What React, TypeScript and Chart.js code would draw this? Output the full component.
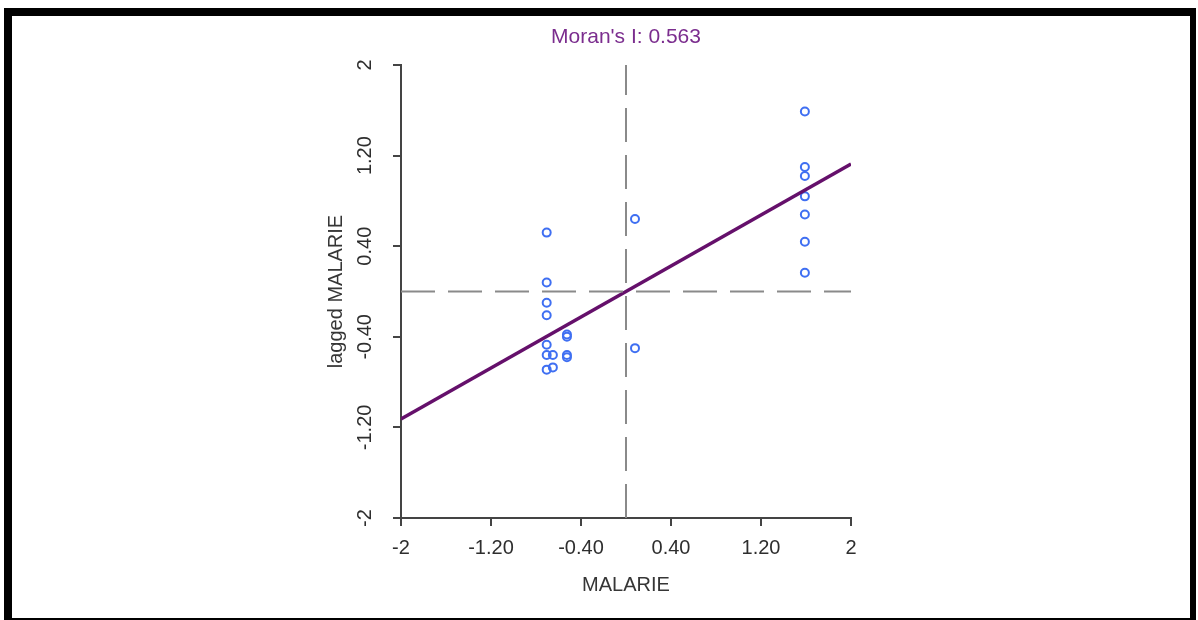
import React, { useEffect, useRef } from "react";
import { Chart, registerables } from "chart.js";

Chart.register(...registerables);

const TITLE = "Moran's I: 0.563";
const X_LABEL = "MALARIE";
const Y_LABEL = "lagged MALARIE";

const tickValues = [-2, -1.2, -0.4, 0.4, 1.2, 2];
const tickLabels = ["-2", "-1.20", "-0.40", "0.40", "1.20", "2"];

// standardized MALARIE values
const pointX = [
  -0.705, -0.705, -0.705, -0.705, -0.705, -0.705, -0.705,
  -0.65, -0.65,
  -0.525, -0.525, -0.525, -0.525,
  0.08, 0.08,
  1.59, 1.59, 1.59, 1.59, 1.59, 1.59, 1.59,
];
// spatially lagged MALARIE values
const pointY = [
  0.52, 0.08, -0.1, -0.21, -0.47, -0.56, -0.69,
  -0.56, -0.67,
  -0.38, -0.4, -0.56, -0.58,
  0.64, -0.5,
  1.59, 1.1, 1.02, 0.84, 0.68, 0.44, 0.165,
];

// regression line (slope = Moran's I)
const fitX = [-2, 2];
const fitY = [-1.126, 1.126];

// mean reference lines
const vRefX = [0, 0];
const vRefY = [-2, 2];
const hRefX = [-2, 2];
const hRefY = [0, 0];

const FONT = '"Liberation Sans", Arial, sans-serif';
const TEXT_COLOR = "#2e2e2e";
const AXIS_COLOR = "#444444";

const labelsPlugin = {
  id: "rLabels",
  afterDraw(chart: any) {
    const { ctx, chartArea, scales } = chart;
    const xs = scales.x;
    const ys = scales.y;
    ctx.save();
    ctx.fillStyle = TEXT_COLOR;
    ctx.font = `20px ${FONT}`;
    ctx.textAlign = "center";
    ctx.textBaseline = "middle";
    tickValues.forEach((v, i) => {
      ctx.fillText(tickLabels[i], xs.getPixelForValue(v), chartArea.bottom + 30);
    });
    tickValues.forEach((v, i) => {
      ctx.save();
      ctx.translate(chartArea.left - 36, ys.getPixelForValue(v));
      ctx.rotate(-Math.PI / 2);
      ctx.fillText(tickLabels[i], 0, 0);
      ctx.restore();
    });
    ctx.font = `20px ${FONT}`;
    ctx.fillStyle = "#363636";
    const cx = (chartArea.left + chartArea.right) / 2;
    const cy = (chartArea.top + chartArea.bottom) / 2;
    ctx.fillText(X_LABEL, cx, chartArea.bottom + 67);
    ctx.save();
    ctx.translate(chartArea.left - 65, cy);
    ctx.rotate(-Math.PI / 2);
    ctx.fillText(Y_LABEL, 0, 0);
    ctx.restore();
    ctx.font = `21px ${FONT}`;
    ctx.fillStyle = "#7b2d8e";
    ctx.fillText(TITLE, cx, chartArea.top - 28);
    ctx.restore();
  },
};

const setTicks = (scale: any) => {
  scale.ticks = tickValues.map((v) => ({ value: v }));
};

export default function App() {
  const ref = useRef<HTMLCanvasElement | null>(null);

  useEffect(() => {
    if (!ref.current) return;
    const toXY = (xs: number[], ys: number[]) => xs.map((x, i) => ({ x, y: ys[i] }));
    const chart = new Chart(ref.current, {
      type: "scatter",
      data: {
        datasets: [
          {
            type: "line",
            data: toXY(vRefX, vRefY),
            borderColor: "#8a8a8a",
            borderWidth: 2,
            borderDash: [34, 13],
            pointRadius: 0,
            fill: false,
          } as any,
          {
            type: "line",
            data: toXY(hRefX, hRefY),
            borderColor: "#8a8a8a",
            borderWidth: 2,
            borderDash: [34, 13],
            pointRadius: 0,
            fill: false,
          } as any,
          {
            type: "line",
            data: toXY(fitX, fitY),
            borderColor: "#65106b",
            borderWidth: 3.5,
            pointRadius: 0,
            fill: false,
          } as any,
          {
            type: "scatter",
            data: toXY(pointX, pointY),
            borderColor: "#3f6ff2",
            backgroundColor: "rgba(0,0,0,0)",
            borderWidth: 2,
            pointRadius: 4,
          } as any,
        ],
      },
      options: {
        animation: false,
        responsive: false,
        layout: { padding: { left: 393, right: 347, top: 65, bottom: 94 } },
        plugins: {
          legend: { display: false },
          tooltip: { enabled: false },
          title: { display: false },
        },
        scales: {
          x: {
            type: "linear",
            min: -2,
            max: 2,
            afterBuildTicks: setTicks,
            ticks: { display: false },
            grid: {
              drawOnChartArea: false,
              drawTicks: true,
              tickLength: 8,
              color: AXIS_COLOR,
              lineWidth: 2,
            },
            border: { display: true, color: AXIS_COLOR, width: 2 },
          },
          y: {
            type: "linear",
            min: -2,
            max: 2,
            afterBuildTicks: setTicks,
            ticks: { display: false },
            grid: {
              drawOnChartArea: false,
              drawTicks: true,
              tickLength: 8,
              color: AXIS_COLOR,
              lineWidth: 2,
            },
            border: { display: true, color: AXIS_COLOR, width: 2 },
          },
        },
      } as any,
      plugins: [labelsPlugin],
    });
    return () => chart.destroy();
  }, []);

  return (
    <div
      style={{
        position: "fixed",
        left: 0,
        top: 0,
        width: 1198,
        height: 620,
        overflow: "hidden",
        background: "#ffffff",
      }}
    >
      <canvas ref={ref} width={1198} height={620} style={{ position: "absolute", left: 0, top: 0 }} />
      <div
        style={{
          position: "absolute",
          left: 4,
          top: 8,
          width: 1192,
          height: 612,
          boxSizing: "border-box",
          borderStyle: "solid",
          borderColor: "#000000",
          borderWidth: "8px 6px 2px 8px",
          pointerEvents: "none",
        }}
      />
    </div>
  );
}
